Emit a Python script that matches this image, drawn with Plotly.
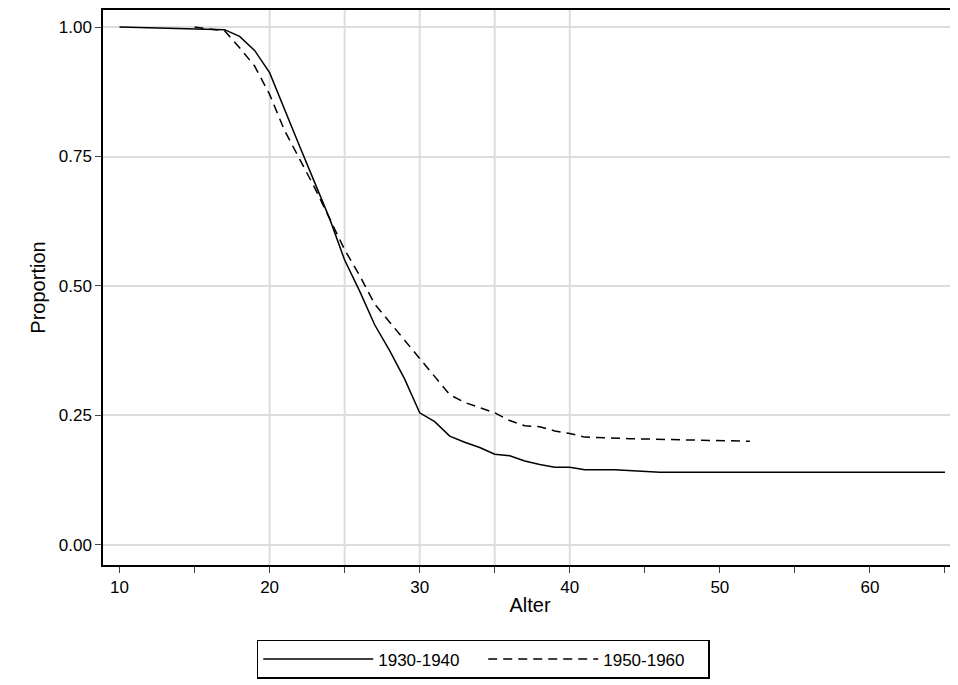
import plotly.graph_objects as go

# survival curves
age_a = [10, 17, 18, 19, 20, 21, 22, 23, 24, 25, 26, 27, 28, 29, 30, 31, 32, 33, 34, 35,
         36, 37, 38, 39, 40, 41, 43, 46, 65]
prop_a = [1.0, 0.995, 0.982, 0.955, 0.912, 0.84, 0.77, 0.70, 0.63, 0.55, 0.49, 0.425, 0.375,
          0.32, 0.255, 0.238, 0.21, 0.198, 0.188, 0.175, 0.172, 0.162, 0.155, 0.15, 0.15,
          0.145, 0.145, 0.14, 0.14]
age_b = [15, 17, 18, 19, 20, 21, 22, 23, 24, 25, 26, 27, 28, 29, 30, 31, 32, 33, 34, 35,
         36, 37, 38, 39, 40, 41, 44, 52]
prop_b = [1.0, 0.993, 0.96, 0.925, 0.87, 0.80, 0.745, 0.69, 0.63, 0.57, 0.52, 0.465, 0.43,
          0.395, 0.36, 0.325, 0.29, 0.275, 0.265, 0.255, 0.24, 0.23, 0.228, 0.22, 0.215,
          0.208, 0.205, 0.2]
ref_ages = [20, 25, 30, 35, 40]
ytick_vals = [0, 0.25, 0.5, 0.75, 1.0]
ytick_text = ["0.00", "0.25", "0.50", "0.75", "1.00"]

fig = go.Figure()
for a in ref_ages:
    fig.add_vline(x=a, line_color="#dddddd", line_width=2, layer="below")
fig.add_trace(go.Scatter(x=age_a, y=prop_a, mode="lines", name="1930-1940",
                         line=dict(color="black", width=1.5)))
fig.add_trace(go.Scatter(x=age_b, y=prop_b, mode="lines", name="1950-1960",
                         line=dict(color="black", width=1.5, dash="9px,6px")))

fig.update_layout(
    width=958, height=685, plot_bgcolor="white", paper_bgcolor="white",
    margin=dict(l=95, r=9, t=2, b=128, autoexpand=False),
    font=dict(family="Liberation Sans, Arial", size=17, color="black"),
    legend=dict(orientation="h", x=0.18, xanchor="left", y=-0.135, yanchor="top",
                bordercolor="black", borderwidth=1.5, font=dict(size=17),
                itemwidth=110, entrywidth=100, tracegroupgap=0),
)
fig.update_xaxes(range=[8.9, 65.8], tickvals=[10, 20, 30, 40, 50, 60], ticks="outside",
                 ticklen=6, tickfont=dict(size=17), automargin=False,
                 showgrid=False, zeroline=False, showline=True, linecolor="black",
                 linewidth=1.5, mirror=True, title=dict(text="Alter", standoff=2),
                 minor=dict(tickvals=[15, 25, 35, 45, 55, 65], ticks="outside", ticklen=6))
fig.update_yaxes(range=[-0.039, 1.033], tickvals=ytick_vals, ticktext=ytick_text,
                 ticks="outside", ticklen=6, tickfont=dict(size=17), automargin=False,
                 showgrid=True, gridcolor="#dddddd", gridwidth=2,
                 zeroline=False, showline=True, linecolor="black", linewidth=1.5, mirror=True,
                 title=dict(text="Proportion", standoff=8))
fig.write_html("out.html")
